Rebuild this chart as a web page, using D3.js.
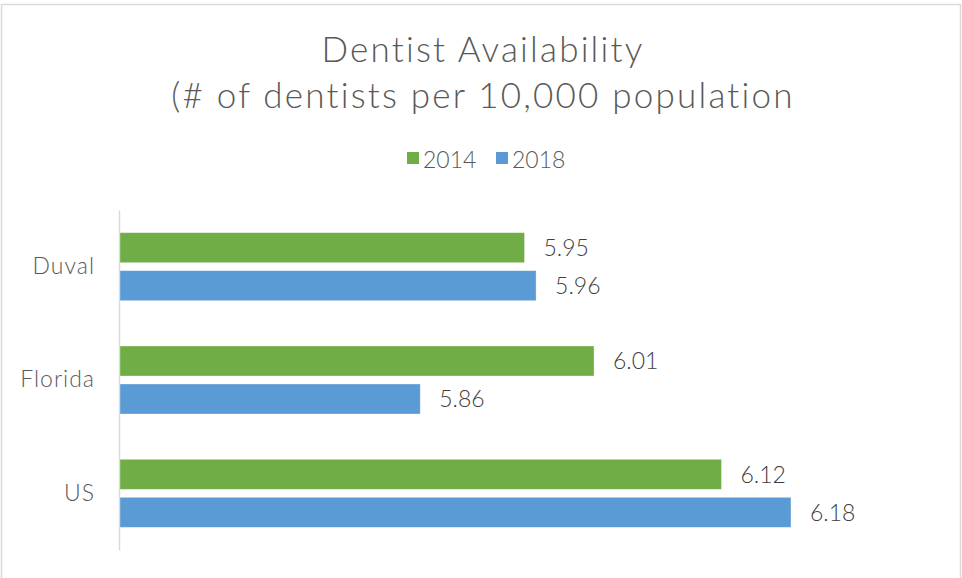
<!DOCTYPE html>
<html>
<head>
<meta charset="utf-8">
<script src="https://cdn.jsdelivr.net/npm/d3@7"></script>
<style>
  html, body { margin: 0; padding: 0; background: #fff; }
  svg { display: block; font-family: Lato, "Open Sans", sans-serif; }
</style>
</head>
<body>
<svg id="chart" width="962" height="578"></svg>
<script>
const categories = ["Duval", "Florida", "US"];
const seriesNames = ["2014", "2018"];
const values2014 = [5.95, 6.01, 6.12];
const values2018 = [5.96, 5.86, 6.18];
const xDomain = [5.6, 6.3];
const titleLines = ["Dentist Availability", "(# of dentists per 10,000 population"];
const colors = ["#70AD47", "#5B9BD5"];

const seriesValues = [values2014, values2018];
const data = categories.map((c, i) => ({
  category: c,
  values: seriesNames.map((s, j) => ({ series: s, value: seriesValues[j][i], color: colors[j] }))
}));

const svg = d3.select("#chart");

// outer border
svg.append("rect")
  .attr("x", 1.5).attr("y", 4.5)
  .attr("width", 959).attr("height", 600)
  .attr("fill", "#fff").attr("stroke", "#d9d9d9").attr("stroke-width", 1.5);

// title
svg.append("g").selectAll("text").data(titleLines).join("text")
  .attr("x", 483)
  .attr("y", (d, i) => 62 + i * 46)
  .attr("text-anchor", "middle")
  .attr("font-size", 35)
  .attr("font-weight", 300)
  .attr("letter-spacing", "2.2px")
  .attr("fill", "#595959")
  .text(d => d);

// legend
const legendItems = [
  { name: seriesNames[0], color: colors[0], x: 407 },
  { name: seriesNames[1], color: colors[1], x: 496 }
];
const lg = svg.append("g").selectAll("g").data(legendItems).join("g")
  .attr("transform", d => `translate(${d.x},152)`);
lg.append("rect").attr("width", 12).attr("height", 12).attr("fill", d => d.color);
lg.append("text").attr("x", 16).attr("y", 15.5)
  .attr("font-size", 23).attr("font-weight", 300).attr("fill", "#595959").text(d => d.name);

// scales
const x = d3.scaleLinear().domain(xDomain).range([119, 930]);
const y0 = d3.scaleBand().domain(categories).range([210, 550])
  .paddingInner(0.4).paddingOuter(0.2);
const y1 = d3.scaleBand().domain(seriesNames).range([0, y0.bandwidth()])
  .paddingInner(2 - y0.bandwidth() / 38).paddingOuter(0);

// category axis
const yAxis = d3.axisLeft(y0).tickSize(0).tickPadding(24);
const ag = svg.append("g").attr("transform", "translate(119,0)").call(yAxis);
ag.select(".domain").attr("stroke", "#d9d9d9").attr("stroke-width", 1.5);
ag.selectAll("text").attr("font-size", 23).attr("fill", "#595959")
  .attr("font-weight", 300).attr("letter-spacing", "1px")
  .attr("font-family", "Lato, 'Open Sans', sans-serif");

// bars
const groups = svg.append("g").selectAll("g").data(data).join("g")
  .attr("transform", d => `translate(0,${y0(d.category)})`);

groups.selectAll("rect").data(d => d.values).join("rect")
  .attr("x", x(xDomain[0]) + 1)
  .attr("y", d => y1(d.series))
  .attr("width", d => x(d.value) - x(xDomain[0]) - 1)
  .attr("height", y1.bandwidth())
  .attr("fill", d => d.color)
  .attr("stroke", "#fff").attr("stroke-opacity", 0.4).attr("stroke-width", 0.75);

groups.selectAll("text").data(d => d.values).join("text")
  .attr("x", d => x(d.value) + 19)
  .attr("y", d => y1(d.series) + y1.bandwidth() / 2)
  .attr("dy", "0.36em")
  .attr("font-size", 23)
  .attr("font-weight", 300)
  .attr("fill", "#404040")
  .text(d => d3.format(".2f")(d.value));
</script>
</body>
</html>
